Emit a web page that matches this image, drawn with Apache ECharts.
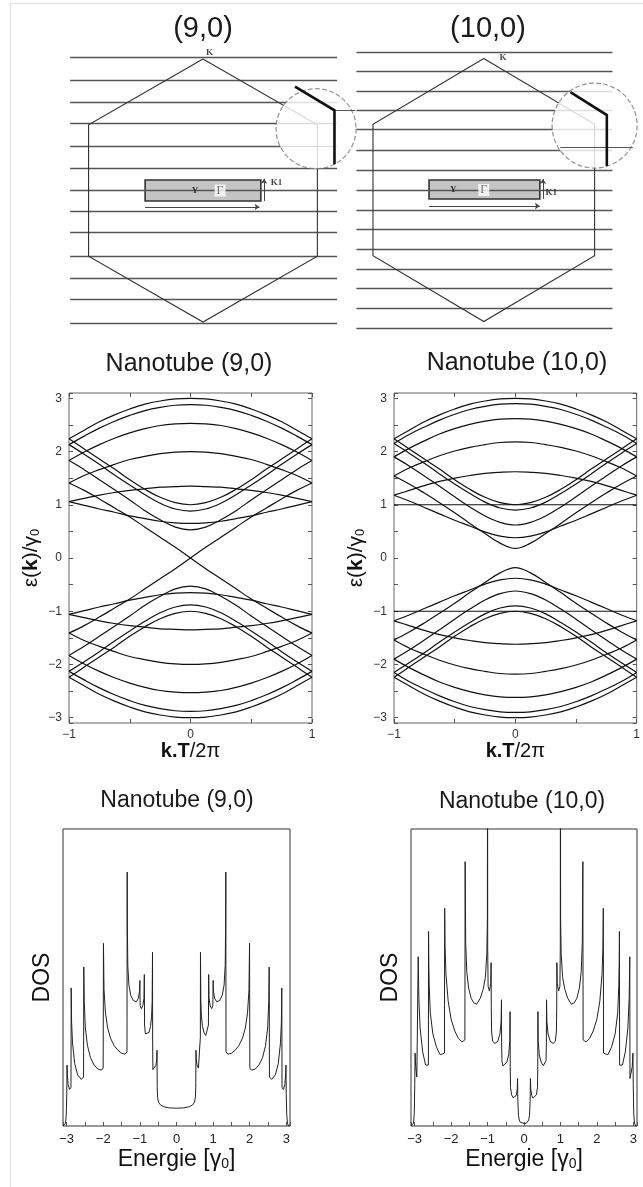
<!DOCTYPE html>
<html>
<head>
    <meta charset="utf-8" />
    <title>Nanotubes zigzag (9,0) et (10,0)</title>
    <script src="https://cdn.jsdelivr.net/npm/echarts@6/dist/echarts.min.js"></script>
    <style>
        html, body { margin: 0; padding: 0; background: #fff; }
        #main { width: 643px; height: 1187px; }
    </style>
</head>
<body>
    <div id="main"></div>
    <script>
        // ---------- données ----------
        // k.T/2pi de 0 à 1 (les bandes sont symétriques en k et en E)
        var kHalf = [0, 0.125, 0.25, 0.375, 0.5, 0.625, 0.75, 0.875, 1];

        // tube (9,0) : bandes E > 0
        var bands9 = [
            [3.00, 2.99, 2.95, 2.89, 2.80, 2.69, 2.56, 2.40, 2.24],
            [2.88, 2.87, 2.83, 2.77, 2.68, 2.57, 2.44, 2.29, 2.13],
            [2.53, 2.52, 2.49, 2.43, 2.35, 2.25, 2.13, 1.99, 1.83],
            [2.00, 1.99, 1.96, 1.91, 1.85, 1.76, 1.66, 1.55, 1.41],
            [1.35, 1.34, 1.33, 1.30, 1.27, 1.23, 1.18, 1.12, 1.06],
            [0.65, 0.66, 0.69, 0.74, 0.79, 0.86, 0.92, 0.99, 1.06],
            [0.53, 0.58, 0.72, 0.89, 1.09, 1.28, 1.47, 1.66, 1.83],
            [0.88, 0.92, 1.03, 1.19, 1.37, 1.56, 1.76, 1.95, 2.13],
            [1.00, 1.04, 1.14, 1.29, 1.47, 1.67, 1.86, 2.05, 2.24]
        ];
        // bande linéaire qui croise E = 0 (tube métallique)
        var cross9 = [0.00, 0.20, 0.39, 0.58, 0.77, 0.94, 1.11, 1.27, 1.41];

        // tube (10,0) : bandes E > 0
        var bands10 = [
            [3.00, 2.99, 2.95, 2.89, 2.80, 2.69, 2.56, 2.40, 2.24],
            [2.90, 2.89, 2.85, 2.79, 2.70, 2.59, 2.46, 2.32, 2.15],
            [2.62, 2.61, 2.57, 2.51, 2.43, 2.33, 2.20, 2.06, 1.90],
            [2.18, 2.17, 2.13, 2.08, 2.01, 1.92, 1.81, 1.69, 1.54],
            [1.62, 1.61, 1.59, 1.55, 1.50, 1.44, 1.36, 1.27, 1.18],
            [1.00, 1.00, 1.00, 1.00, 1.00, 1.00, 1.00, 1.00, 1.00],
            [0.38, 0.41, 0.49, 0.60, 0.71, 0.83, 0.95, 1.07, 1.18],
            [0.18, 0.28, 0.46, 0.65, 0.85, 1.04, 1.22, 1.39, 1.54],
            [0.62, 0.67, 0.79, 0.96, 1.15, 1.35, 1.54, 1.73, 1.90],
            [0.90, 0.94, 1.05, 1.21, 1.39, 1.58, 1.78, 1.97, 2.15],
            [1.00, 1.04, 1.14, 1.29, 1.47, 1.67, 1.86, 2.05, 2.24]
        ];

        // densité d'états, moitié E >= 0 : [énergie, DOS (0..100 = haut du cadre)]
        var dos9 = [
            [0.00, 6.0], [0.20, 6.1], [0.35, 6.5], [0.44, 7.1], [0.49, 8.0], [0.515, 9.5], [0.527, 13],
            [0.532, 25.5], [0.54, 22.5], [0.56, 20.5], [0.60, 19.5], [0.645, 19.0], [0.652, 30],
            [0.655, 58.5], [0.665, 42], [0.68, 37], [0.71, 33.5], [0.75, 31.5], [0.80, 30.5], [0.85, 31],
            [0.872, 34], [0.879, 51], [0.888, 43], [0.92, 40.5], [0.96, 39.5], [0.993, 40.5], [1.0, 49],
            [1.01, 45.5], [1.04, 43], [1.10, 41.8], [1.18, 42.3], [1.25, 44], [1.30, 47.5], [1.33, 54],
            [1.343, 68], [1.347, 85.5], [1.352, 25], [1.40, 24.2], [1.50, 24.5], [1.60, 25.5], [1.70, 27],
            [1.80, 29.5], [1.88, 33], [1.94, 38], [1.98, 46], [1.995, 61.5], [2.003, 19.5], [2.05, 18.8],
            [2.15, 19.2], [2.25, 20.5], [2.35, 23], [2.43, 27], [2.49, 33], [2.52, 42], [2.532, 53.5],
            [2.538, 16.5], [2.60, 15.7], [2.70, 17.2], [2.78, 21], [2.84, 28], [2.865, 35], [2.876, 46.5],
            [2.882, 13], [2.92, 12.3], [2.96, 14], [2.98, 17], [2.99, 20.5], [2.997, 11], [3.01, 4],
            [3.03, 1], [3.06, 0], [3.10, 0]
        ];
        var dos10 = [
            [0.00, 0.9], [0.06, 0.9], [0.10, 1.2], [0.13, 2.0], [0.15, 3.5], [0.165, 7], [0.172, 11],
            [0.176, 16], [0.185, 12.5], [0.21, 10.3], [0.25, 9.4], [0.30, 9.5], [0.34, 10.5], [0.37, 13],
            [0.378, 20], [0.382, 38.5], [0.39, 28.5], [0.42, 24], [0.47, 21.5], [0.53, 20.3], [0.58, 20.2],
            [0.605, 22], [0.614, 28], [0.618, 42.5], [0.628, 35], [0.66, 31], [0.72, 28.5], [0.80, 27.8],
            [0.86, 28.5], [0.89, 32], [0.898, 40], [0.902, 55], [0.912, 48], [0.95, 45.5], [0.985, 47],
            [0.996, 60], [1.0, 140], [1.004, 70], [1.02, 58], [1.06, 50], [1.12, 46], [1.20, 43],
            [1.30, 41], [1.38, 41.5], [1.45, 43], [1.52, 46.5], [1.57, 52], [1.60, 62], [1.615, 89],
            [1.622, 29], [1.70, 28.3], [1.80, 29.5], [1.90, 32], [2.00, 36], [2.08, 42], [2.14, 51],
            [2.165, 60], [2.176, 73.3], [2.182, 24.5], [2.30, 24], [2.40, 26.5], [2.50, 31], [2.57, 38],
            [2.60, 47], [2.612, 55], [2.618, 65.5], [2.623, 20.5], [2.70, 20.5], [2.78, 25], [2.85, 33],
            [2.885, 43], [2.902, 57], [2.907, 16], [2.94, 16.5], [2.97, 20], [2.988, 24.5], [2.997, 14],
            [3.01, 4], [3.03, 1], [3.06, 0], [3.10, 0]
        ];

        // zone de Brillouin (hexagone de rayon 1) et lignes de coupe
        var hexagon = [[0, 1], [0.87, 0.5], [0.87, -0.5], [0, -1], [-0.87, -0.5], [-0.87, 0.5], [0, 1]];
        var cutLines9 = [1.01, 0.84, 0.67, 0.51, 0.34, 0.17, 0, -0.16, -0.32, -0.50, -0.67, -0.83, -1.01];
        var cutSpan9 = [-1.01, 1.02];
        var cutLines10 = [1.05, 0.90, 0.75, 0.61, 0.46, 0.30, 0.15, 0, -0.15, -0.30, -0.45, -0.60, -0.75, -0.90, -1.05];
        var cutSpan10 = [-1.00, 1.01];

        // loupe sur le point K
        var zoomCentre9 = [0.86, 0.47];
        var zoomCorner9 = [[0.70, 0.79], [1.00, 0.61], [1.00, 0.20]];
        var zoomCut9 = [[1.00, 0.61], [1.16, 0.61]];
        var zoomCentre10 = [0.87, 0.49];
        var zoomCorner10 = [[0.68, 0.745], [0.966, 0.57], [0.966, 0.183]];
        var zoomCut10 = [[0.60, 0.327], [1.17, 0.327]];

        // rectangle (1re zone du tube), flèches et étiquettes
        var rect9 = [[-0.44, 0.08], [0.44, -0.08]];
        var arrowK9 = [[-0.44, -0.125], [0.43, -0.125]];
        var arrowUp9 = [[0.464, -0.08], [0.464, 0.09]];
        var labels9 = [['K', 0.05, 1.05], ['Y', -0.06, 0], ['Γ', 0.13, 0], ['K1', 0.56, 0.06]];
        var rect10 = [[-0.43, 0.076], [0.44, -0.068]];
        var arrowK10 = [[-0.43, -0.122], [0.44, -0.122]];
        var arrowUp10 = [[0.464, -0.068], [0.464, 0.084]];
        var labels10 = [['K', 0.15, 1.01], ['Y', -0.24, 0], ['Γ', 0, 0], ['K1', 0.53, -0.02]];

        // ---------- construction ----------
        var FONT = '"Liberation Sans", Arial, sans-serif';
        var SERIF = '"Liberation Serif", "Times New Roman", serif';

        function intLabel(v) {
            var r = Math.round(v);
            return Math.abs(v - r) < 1e-6 ? String(r).replace('-', '\u2212') : '';
        }
        function bandPoints(half, sign) {
            var pts = [];
            for (var i = half.length - 1; i > 0; i--) pts.push([-kHalf[i], sign * half[i]]);
            for (var j = 0; j < half.length; j++) pts.push([kHalf[j], sign * half[j]]);
            return pts;
        }
        function crossPoints(half, sign) {
            var pts = [];
            for (var i = half.length - 1; i > 0; i--) pts.push([-kHalf[i], -sign * half[i]]);
            for (var j = 0; j < half.length; j++) pts.push([kHalf[j], sign * half[j]]);
            return pts;
        }
        function dosPoints(half) {
            var pts = [];
            for (var i = half.length - 1; i > 0; i--) pts.push([-half[i][0], half[i][1]]);
            for (var j = 0; j < half.length; j++) pts.push(half[j]);
            return pts;
        }

        var grids = [
            { left: 38.6, top: 39.3, width: 328.75, height: 302.45 },
            { left: 324.6, top: 38.8, width: 328.75, height: 302.45 },
            { left: 69, top: 393, width: 243, height: 330, show: true, borderColor: '#666', borderWidth: 1 },
            { left: 394, top: 393, width: 246, height: 330, show: true, borderColor: '#666', borderWidth: 1 },
            { left: 63, top: 829, width: 227, height: 297, show: true, borderColor: '#333', borderWidth: 1 },
            { left: 411, top: 829, width: 226, height: 297, show: true, borderColor: '#333', borderWidth: 1 }
        ];

        var xAxes = [], yAxes = [], series = [];
        var tickStyle = { inside: true, length: 4, lineStyle: { color: '#555' } };
        var noLine = { show: false, onZero: false };

        // rangée du haut : axes cachés
        [0, 1].forEach(function (g) {
            xAxes.push({ gridIndex: g, type: 'value', min: -1.25, max: 1.25, show: false });
            yAxes.push({ gridIndex: g, type: 'value', min: -1.15, max: 1.15, show: false });
        });
        // structure de bandes
        [2, 3].forEach(function (g) {
            xAxes.push({
                gridIndex: g, type: 'value', min: -1, max: 1, interval: 0.5, position: 'bottom',
                axisLine: noLine, axisTick: tickStyle, splitLine: { show: false },
                axisLabel: { formatter: intLabel, color: '#333', fontSize: 12, fontFamily: FONT, margin: 6 },
                name: '{b|k.T}{n|/2π}', nameLocation: 'middle', nameGap: 16,
                nameTextStyle: { rich: {
                    b: { fontSize: 20, fontWeight: 'bold', fontFamily: FONT, color: '#111' },
                    n: { fontSize: 20, fontFamily: FONT, color: '#111' }
                } }
            });
            yAxes.push({
                gridIndex: g, type: 'value', min: -3.1, max: 3.1, splitNumber: 12, position: 'left',
                axisLine: noLine, axisTick: tickStyle, splitLine: { show: false },
                axisLabel: { formatter: intLabel, color: '#333', fontSize: 12, fontFamily: FONT, margin: 7 },
                name: '{n|ε(}{b|k}{n|)/γ}{s|0}', nameLocation: 'middle', nameRotate: 90, nameGap: 27,
                nameTextStyle: { rich: {
                    n: { fontSize: 21, fontFamily: FONT, color: '#111' },
                    b: { fontSize: 21, fontWeight: 'bold', fontFamily: FONT, color: '#111' },
                    s: { fontSize: 13, fontFamily: FONT, color: '#111', verticalAlign: 'bottom', lineHeight: 6 }
                } }
            });
        });
        [2, 3].forEach(function (g) {
            xAxes.push({ gridIndex: g, type: 'value', min: -1, max: 1, interval: 0.5, position: 'top',
                axisLine: noLine, axisTick: tickStyle, axisLabel: { show: false }, splitLine: { show: false } });
            yAxes.push({ gridIndex: g, type: 'value', min: -3.1, max: 3.1, splitNumber: 12, position: 'right',
                axisLine: noLine, axisTick: tickStyle, axisLabel: { show: false }, splitLine: { show: false } });
        });
        // densité d'états
        [4, 5].forEach(function (g) {
            xAxes.push({
                gridIndex: g, type: 'value', min: -3.1, max: 3.1, splitNumber: 12, position: 'bottom',
                axisLine: noLine, axisTick: tickStyle, splitLine: { show: false },
                axisLabel: { formatter: intLabel, color: '#222', fontSize: 13, fontFamily: FONT, margin: 7 },
                name: '{n|Energie [γ}{s|0}{n|]}', nameLocation: 'middle', nameGap: 22,
                nameTextStyle: { rich: {
                    n: { fontSize: 23, fontFamily: FONT, color: '#111' },
                    s: { fontSize: 14, fontFamily: FONT, color: '#111', verticalAlign: 'bottom', lineHeight: 8 }
                } }
            });
            yAxes.push({
                gridIndex: g, type: 'value', min: 0, max: 100, position: 'left',
                axisLine: noLine, axisTick: { show: false }, axisLabel: { show: false }, splitLine: { show: false },
                name: 'DOS', nameLocation: 'middle', nameRotate: 90, nameGap: 9,
                nameTextStyle: { fontSize: 23, fontFamily: FONT, color: '#111' }
            });
        });

        // --- zones de Brillouin ---
        function brillouin(g, cuts, span, rect, arrowK, arrowUp, centre, size, corner, zcut, labels) {
            var base = { coordinateSystem: 'cartesian2d', xAxisIndex: g, yAxisIndex: g, silent: true };
            series.push(Object.assign({}, base, {
                type: 'lines', z: 2,
                lineStyle: { color: '#555', width: 1.3, opacity: 1 },
                data: cuts.map(function (y) { return { coords: [[span[0], y], [span[1], y]] }; })
            }));
            series.push(Object.assign({}, base, {
                type: 'lines', polyline: true, z: 3,
                lineStyle: { color: '#333', width: 1.1, opacity: 1 },
                data: [{ coords: hexagon }]
            }));
            series.push(Object.assign({}, base, {
                type: 'line', z: 3, data: [],
                markArea: {
                    silent: true, label: { show: false },
                    itemStyle: { color: '#c4c4c4', borderColor: '#333', borderWidth: 1.6 },
                    data: [[{ coord: rect[0] }, { coord: rect[1] }]]
                }
            }));
            series.push(Object.assign({}, base, {
                type: 'lines', z: 4, symbol: ['none', 'arrow'], symbolSize: 5,
                lineStyle: { color: '#444', width: 1, opacity: 1 },
                data: [{ coords: arrowK }, { coords: arrowUp }]
            }));
            series.push(Object.assign({}, base, {
                type: 'scatter', z: 5, clip: false, symbol: 'circle', symbolSize: size,
                itemStyle: { color: '#fff', borderColor: '#777', borderWidth: 1.2, borderType: 'dashed' },
                data: [centre]
            }));
            series.push(Object.assign({}, base, {
                type: 'lines', z: 6, lineStyle: { color: '#555', width: 1.1, opacity: 1 },
                data: [{ coords: zcut }]
            }));
            series.push(Object.assign({}, base, {
                type: 'lines', polyline: true, z: 7, lineStyle: { color: '#111', width: 2.6, opacity: 1 },
                data: [{ coords: corner }]
            }));
            series.push(Object.assign({}, base, {
                type: 'scatter', z: 8, clip: false, symbolSize: 1, itemStyle: { color: 'rgba(0,0,0,0)' },
                data: labels.map(function (l) {
                    var isGamma = l[0] === 'Γ';
                    return {
                        value: [l[1], l[2]],
                        label: {
                            show: true, position: 'inside', formatter: l[0],
                            fontFamily: SERIF, fontWeight: isGamma ? 'normal' : 'bold',
                            fontSize: isGamma ? 12 : 9, color: isGamma ? '#555' : '#111',
                            backgroundColor: isGamma ? '#fff' : 'transparent', padding: isGamma ? [0, 2] : 0
                        }
                    };
                })
            }));
        }
        brillouin(0, cutLines9, cutSpan9, rect9, arrowK9, arrowUp9, zoomCentre9, 80, zoomCorner9, zoomCut9, labels9);
        brillouin(1, cutLines10, cutSpan10, rect10, arrowK10, arrowUp10, zoomCentre10, 85, zoomCorner10, zoomCut10, labels10);

        // --- structures de bandes ---
        function bandLine(axis, data) {
            series.push({
                type: 'line', xAxisIndex: axis, yAxisIndex: axis, data: data,
                smooth: 0.4, showSymbol: false, silent: true, clip: true,
                lineStyle: { color: '#111', width: 1.2 }
            });
        }
        bands9.forEach(function (b) { bandLine(2, bandPoints(b, 1)); bandLine(2, bandPoints(b, -1)); });
        bandLine(2, crossPoints(cross9, 1));
        bandLine(2, crossPoints(cross9, -1));
        bands10.forEach(function (b) { bandLine(3, bandPoints(b, 1)); bandLine(3, bandPoints(b, -1)); });

        // --- densités d'états ---
        [[6, dos9], [7, dos10]].forEach(function (d) {
            series.push({
                type: 'line', xAxisIndex: d[0], yAxisIndex: d[0], data: dosPoints(d[1]),
                showSymbol: false, silent: true, clip: true,
                lineStyle: { color: '#222', width: 1 }
            });
        });

        var titleStyle = function (size) {
            return { fontSize: size, fontWeight: 'normal', fontFamily: FONT, color: '#1a1a1a', lineHeight: size };
        };
        var option = {
            animation: false,
            backgroundColor: '#fff',
            title: [
                { text: '(9,0)', left: 203, top: 14, textAlign: 'center', padding: 0, textStyle: titleStyle(29) },
                { text: '(10,0)', left: 488, top: 14, textAlign: 'center', padding: 0, textStyle: titleStyle(29) },
                { text: 'Nanotube (9,0)', left: 189, top: 352, textAlign: 'center', padding: 0, textStyle: titleStyle(25) },
                { text: 'Nanotube (10,0)', left: 517, top: 351, textAlign: 'center', padding: 0, textStyle: titleStyle(25) },
                { text: 'Nanotube (9,0)', left: 177, top: 789, textAlign: 'center', padding: 0, textStyle: titleStyle(23) },
                { text: 'Nanotube (10,0)', left: 522, top: 790, textAlign: 'center', padding: 0, textStyle: titleStyle(23) }
            ],
            graphic: [{
                type: 'rect', silent: true, z: -1,
                shape: { x: 10.5, y: 3.5, width: 700, height: 1300 },
                style: { fill: 'none', stroke: '#e2e2e2', lineWidth: 1 }
            }],
            grid: grids,
            xAxis: xAxes,
            yAxis: yAxes,
            series: series
        };

        var chart = echarts.init(document.getElementById('main'));
        chart.setOption(option);
    </script>
</body>
</html>
